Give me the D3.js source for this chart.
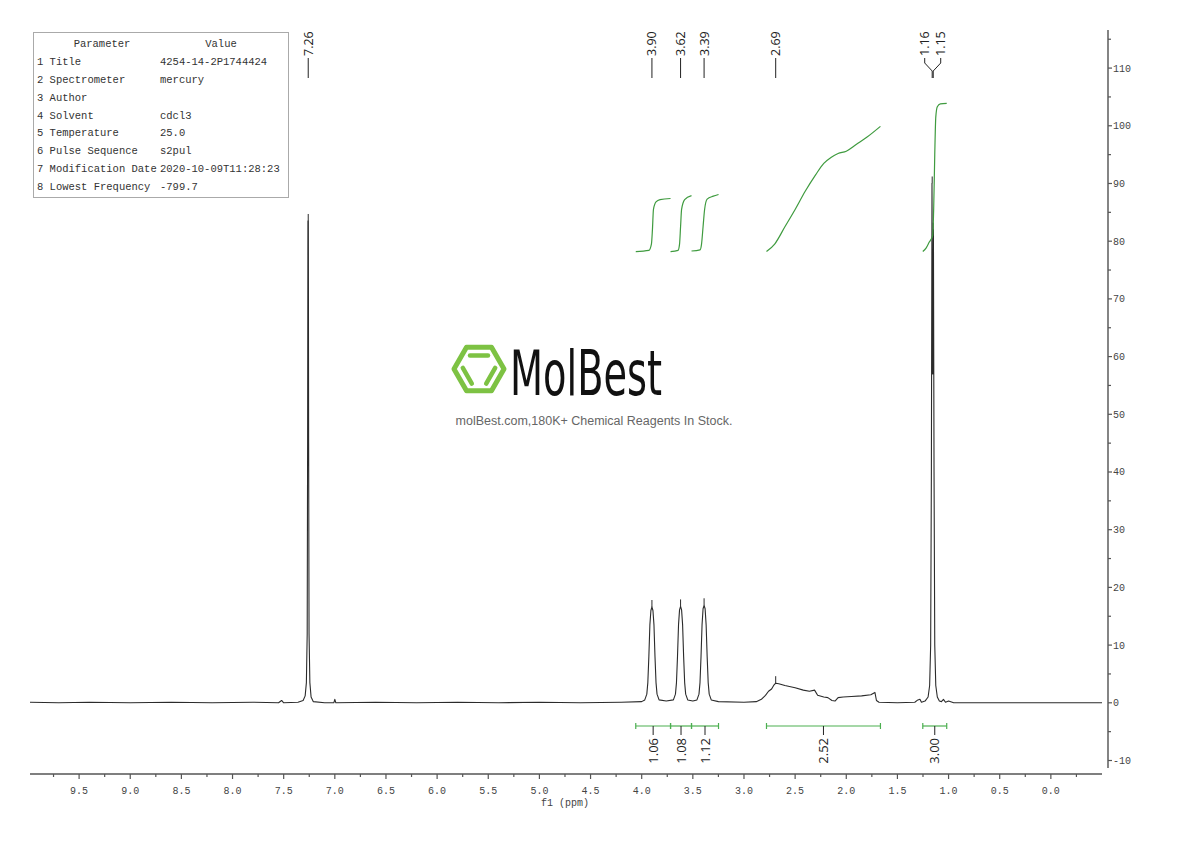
<!DOCTYPE html>
<html><head><meta charset="utf-8">
<script src="https://cdn.jsdelivr.net/npm/d3@7"></script>
<style>body{margin:0;background:#fff}</style>
</head><body>
<svg id="c" width="1190" height="841"></svg>
<script>
// ---------------- data ----------------
const paramNames = ["1 Title","2 Spectrometer","3 Author","4 Solvent","5 Temperature","6 Pulse Sequence","7 Modification Date","8 Lowest Frequency"];
const paramValues = ["4254-14-2P1744424","mercury","","cdcl3","25.0","s2pul","2020-10-09T11:28:23","-799.7"];

const xTicks = [9.5,9.0,8.5,8.0,7.5,7.0,6.5,6.0,5.5,5.0,4.5,4.0,3.5,3.0,2.5,2.0,1.5,1.0,0.5,0.0];
const yTicks = [-10,0,10,20,30,40,50,60,70,80,90,100,110];

// traced spectrum [ppm, intensity]
const spectrum = [
 [9.98,0.1],[9.7,0.0],[9.4,0.1],[9.0,0.0],[8.6,0.1],[8.2,0.0],[7.8,0.1],[7.55,0.0],[7.52,0.4],[7.50,0.0],
 [7.36,0.1],[7.31,0.4],[7.29,1.2],[7.278,3.5],[7.270,12],[7.266,45],[7.263,83.5],[7.259,83.5],[7.256,45],[7.252,12],[7.244,3.5],[7.232,1.0],[7.21,0.2],
 [7.10,0.0],[7.01,0.0],[7.00,0.6],[6.99,0.0],[6.6,0.1],[6.2,0.0],[5.8,0.1],[5.4,0.0],[5.0,0.1],[4.6,0.0],[4.2,0.1],
 [4.0,0.2],[3.97,0.5],[3.95,1.5],[3.94,3.5],[3.93,8],[3.92,13.5],[3.91,16],[3.90,16.6],[3.89,16],[3.88,13.5],[3.87,8],[3.86,3.5],[3.85,1.5],[3.83,0.5],
 [3.76,0.3],[3.69,0.5],[3.67,1.5],[3.66,3.5],[3.65,8],[3.64,13.5],[3.63,16.1],[3.62,16.7],[3.61,16.1],[3.60,13.5],[3.59,8],[3.58,3.5],[3.57,1.5],[3.55,0.5],
 [3.50,0.3],[3.46,0.5],[3.44,1.5],[3.43,3.5],[3.42,8],[3.41,13.5],[3.40,16.3],[3.39,16.9],[3.38,16.3],[3.37,13.5],[3.36,8],[3.35,3.5],[3.34,1.5],[3.32,0.5],
 [3.25,0.2],[3.0,0.1],[2.88,0.2],[2.83,0.6],[2.79,1.3],[2.76,2.0],[2.73,2.4],[2.71,3.0],[2.69,3.4],[2.66,3.3],[2.60,3.0],[2.50,2.6],[2.42,2.2],[2.36,2.0],[2.31,2.2],
 [2.28,1.3],[2.22,1.0],[2.18,0.9],[2.14,0.4],[2.11,0.3],[2.08,0.9],[2.03,1.0],[1.95,1.1],[1.85,1.2],[1.76,1.4],[1.72,1.8],[1.705,0.4],[1.68,0.1],
 [1.50,0.0],[1.33,0.1],[1.30,0.5],[1.28,0.6],[1.265,0.1],[1.23,0.3],[1.20,1.0],[1.185,3],[1.175,10],[1.168,40],[1.162,90],[1.158,68],[1.155,57],[1.152,68],[1.148,82],[1.142,40],[1.135,10],[1.125,3],[1.11,1],
 [1.09,0.3],[1.07,0.2],[1.05,0.6],[1.03,0.1],[1.00,0.3],[0.95,0.0],[0.6,0.0],[0.2,0.0],[-0.2,0.0],[-0.50,0.0]
];

const peakLabels = [7.26,3.90,3.62,3.39,2.69,1.16,1.15];

const integralRanges = [[4.058,3.718],[3.718,3.513],[3.513,3.249],[2.78,1.666],[1.252,1.018]];
const integralValues = ["1.06","1.08","1.12","2.52","3.00"];
const integralCurves = [
 [[4.058,78.2],[3.93,78.4],[3.905,79.5],[3.895,82],[3.885,85.5],[3.86,86.8],[3.82,87.2],[3.718,87.4]],
 [[3.718,78.2],[3.645,78.4],[3.63,79.5],[3.62,82.5],[3.61,85.5],[3.58,87.2],[3.513,87.9]],
 [[3.513,78.3],[3.43,78.5],[3.415,79.5],[3.40,82.5],[3.385,85.5],[3.36,87.3],[3.30,87.8],[3.249,88.1]],
 [[2.78,78.2],[2.70,79.5],[2.60,82.5],[2.50,85.5],[2.40,88.7],[2.30,91.5],[2.22,93.5],[2.15,94.5],[2.08,95.2],[2.00,95.6],[1.90,96.8],[1.80,98],[1.666,99.9]],
 [[1.252,78.2],[1.22,78.8],[1.19,79.8],[1.155,81],[1.145,86],[1.135,95],[1.125,101.5],[1.11,103.3],[1.08,103.8],[1.018,103.9]]
];

// ---------------- drawing ----------------
const svg = d3.select("#c");
const x = d3.scaleLinear().domain([9.98,-0.50]).range([30,1102]);
const y = d3.scaleLinear().domain([-11.3,116.6]).range([768,30]);
const serif = "'Liberation Mono', 'DejaVu Sans Mono', monospace";
const sans = "'Open Sans', 'Noto Sans', sans-serif";

// bottom axis
const xAxisG = svg.append("g").attr("transform","translate(0,774)");
const minorX = d3.range(-0.25, 10.0, 0.25).filter(v => v >= -0.5 && v <= 9.98 && Math.abs(v*2 - Math.round(v*2)) > 1e-6);
xAxisG.append("line").attr("x1",x.range()[0]).attr("x2",x.range()[1]).attr("y1",0).attr("y2",0)
  .attr("stroke","#555").attr("stroke-width",1.4);
xAxisG.selectAll(".mj").data(xTicks).enter().append("line")
  .attr("x1",d=>x(d)).attr("x2",d=>x(d)).attr("y1",0).attr("y2",5).attr("stroke","#555").attr("stroke-width",1.2);
xAxisG.selectAll(".mn").data(minorX).enter().append("line")
  .attr("x1",d=>x(d)).attr("x2",d=>x(d)).attr("y1",0).attr("y2",3).attr("stroke","#555").attr("stroke-width",1.2);
xAxisG.selectAll(".lb").data(xTicks).enter().append("text")
  .attr("x",d=>x(d)).attr("y",20).attr("text-anchor","middle")
  .attr("font-family",serif).attr("font-size",10).attr("fill","#444")
  .text(d=>d.toFixed(1));
svg.append("text").attr("x",565).attr("y",806).attr("text-anchor","middle")
  .attr("font-family",serif).attr("font-size",10).attr("fill","#444").text("f1 (ppm)");

// right axis
const yAxisG = svg.append("g").attr("transform","translate(1108,0)");
yAxisG.append("line").attr("x1",0).attr("x2",0).attr("y1",y.range()[1]).attr("y2",y.range()[0])
  .attr("stroke","#666").attr("stroke-width",1.6);
const minorY = d3.range(-5,116,10);
yAxisG.selectAll(".mj").data(yTicks).enter().append("line")
  .attr("x1",0).attr("x2",4).attr("y1",d=>y(d)).attr("y2",d=>y(d)).attr("stroke","#555").attr("stroke-width",1.2);
yAxisG.selectAll(".mn").data(minorY).enter().append("line")
  .attr("x1",0).attr("x2",3).attr("y1",d=>y(d)).attr("y2",d=>y(d)).attr("stroke","#555").attr("stroke-width",1.2);
yAxisG.selectAll(".lb").data(yTicks).enter().append("text")
  .attr("x",5).attr("y",d=>y(d)).attr("dy","0.35em")
  .attr("font-family",serif).attr("font-size",10).attr("fill","#444")
  .text(d=>d);

// spectrum
const line = d3.line().x(d=>x(d[0])).y(d=>y(d[1]));
svg.append("path").datum(spectrum).attr("d",line).attr("fill","none")
  .attr("stroke","#2b2b2b").attr("stroke-width",1.1).attr("stroke-linejoin","round");

// peak markers (short ticks above apex)
function apex(p){
  let best = 0;
  spectrum.forEach(d=>{ if (Math.abs(d[0]-p) <= 0.012 && d[1] > best) best = d[1]; });
  return best;
}
svg.selectAll(".pm").data(peakLabels).enter().append("line")
  .attr("x1",d=>x(d)).attr("x2",d=>x(d))
  .attr("y1",d=>y(apex(d))).attr("y2",d=>y(apex(d))-7)
  .attr("stroke","#2b2b2b").attr("stroke-width",1);

// integral curves
svg.selectAll(".ic").data(integralCurves).enter().append("path")
  .attr("d",d=>d3.line().curve(d3.curveMonotoneX).x(p=>x(p[0])).y(p=>y(p[1]))(d.slice().reverse()))
  .attr("fill","none").attr("stroke","#3f9b3f").attr("stroke-width",1.2);

// integral bars
const barY = 726;
const ig = svg.append("g");
integralRanges.forEach((r,i)=>{
  const x0 = x(r[0]), x1 = x(r[1]), xc = x((r[0]+r[1])/2);
  ig.append("line").attr("x1",x0).attr("x2",x1).attr("y1",barY).attr("y2",barY).attr("stroke","#4caf50").attr("stroke-width",1.2);
  [x0,x1].forEach(xx=> ig.append("line").attr("x1",xx).attr("x2",xx).attr("y1",barY-3).attr("y2",barY+3).attr("stroke","#4caf50").attr("stroke-width",1.2));
  ig.append("line").attr("x1",xc).attr("x2",xc).attr("y1",barY).attr("y2",barY+9).attr("stroke","#222").attr("stroke-width",1);
  ig.append("text").attr("transform",`translate(${xc},${barY+12}) rotate(-90)`)
    .attr("text-anchor","end").attr("dy","0.36em")
    .attr("font-family",sans).attr("font-size",13).attr("fill","#222").text(integralValues[i]);
});

// peak labels at top with spreading
const px = peakLabels.map(p=>x(p));
const lx = px.slice();
const minGap = 16;
// cluster spread
let clusters = [], cur = [0];
for (let i=1;i<px.length;i++){ if (px[i]-px[i-1] < minGap) cur.push(i); else { clusters.push(cur); cur=[i]; } }
clusters.push(cur);
clusters.forEach(c=>{
  if (c.length>1){
    const mid = d3.mean(c, i=>px[i]);
    c.forEach((i,k)=>{ lx[i] = mid + (k-(c.length-1)/2)*minGap; });
  }
});
const pg = svg.append("g");
peakLabels.forEach((p,i)=>{
  pg.append("path").attr("d",`M${lx[i]},58 L${lx[i]},63 L${px[i]},71 L${px[i]},78`)
    .attr("fill","none").attr("stroke","#222").attr("stroke-width",1);
  pg.append("text").attr("transform",`translate(${lx[i]},56) rotate(-90)`)
    .attr("text-anchor","start").attr("dy","0.36em")
    .attr("font-family",sans).attr("font-size",12.5).attr("fill","#222").text(p.toFixed(2));
});

// parameter table
const tg = svg.append("g");
tg.append("rect").attr("x",33.5).attr("y",32.5).attr("width",255).attr("height",165)
  .attr("fill","#fff").attr("stroke","#aaa").attr("stroke-width",1);
tg.append("text").attr("x",102).attr("y",47).attr("text-anchor","middle").attr("font-family",serif).attr("font-size",10.5).attr("fill","#333").text("Parameter");
tg.append("text").attr("x",221).attr("y",47).attr("text-anchor","middle").attr("font-family",serif).attr("font-size",10.5).attr("fill","#333").text("Value");
paramNames.forEach((n,i)=>{
  tg.append("text").attr("x",37).attr("y",65+i*17.85).attr("font-family",serif).attr("font-size",10.5).attr("fill","#333").text(n);
  tg.append("text").attr("x",160).attr("y",65+i*17.85).attr("font-family",serif).attr("font-size",10.5).attr("fill","#333").text(paramValues[i]);
});

// watermark logo
const lg = svg.append("g");
const cx = 479, cy = 369, R = 25;
const hex = d3.range(6).map(k=>[cx+R*Math.cos(k*Math.PI/3), cy+R*Math.sin(k*Math.PI/3)]);
lg.append("path").attr("d","M"+hex.map(p=>p.join(",")).join("L")+"Z")
  .attr("fill","none").attr("stroke","#7dc243").attr("stroke-width",5).attr("stroke-linejoin","round");
[-90,150,30].forEach(a=>{
  const t = a*Math.PI/180, nx=Math.cos(t), ny=Math.sin(t);
  const bx = cx+nx*13.5, by = cy+ny*13.5, dx=-ny*9, dy=nx*9;
  lg.append("line").attr("x1",bx-dx).attr("y1",by-dy).attr("x2",bx+dx).attr("y2",by+dy)
    .attr("stroke","#7dc243").attr("stroke-width",4.5).attr("stroke-linecap","round");
});
lg.append("text").attr("x",510).attr("y",395).attr("font-family","'Liberation Sans Narrow','DejaVu Sans Condensed','Liberation Sans',sans-serif")
  .attr("font-size",62).attr("textLength",152).attr("lengthAdjust","spacingAndGlyphs").attr("fill","#111").text("MolBest");
lg.append("text").attr("x",594).attr("y",425).attr("text-anchor","middle").attr("font-family","'Liberation Sans', Arial, sans-serif")
  .attr("font-size",12.5).attr("fill","#666").text("molBest.com,180K+ Chemical Reagents In Stock.");
</script>
</body></html>
